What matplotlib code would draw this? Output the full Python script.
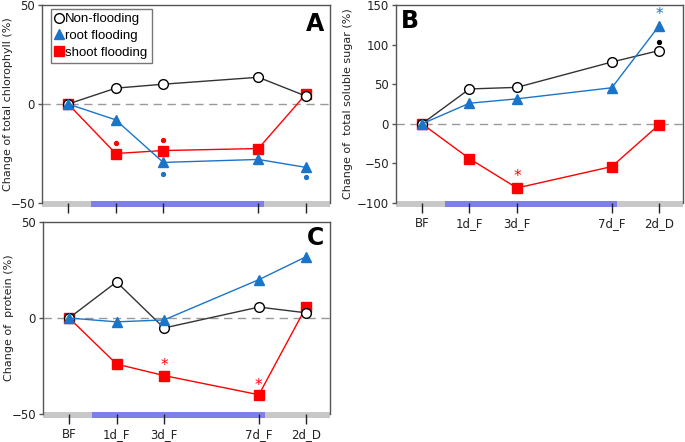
import numpy as np
import matplotlib.pyplot as plt
from matplotlib.lines import Line2D

# x positions of the sampling points (not evenly spaced)
xlabels = ['BF', '1d_F', '3d_F', '7d_F', '2d_D']
xpos = [0, 1, 2, 4, 5]

# panel A: total chlorophyll
chl_non = [0, 8, 10, 13.5, 4]
chl_root = [0, -8, -29.5, -28, -32]
chl_shoot = [0, -25, -23.5, -22.5, 5]

# panel B: total soluble sugar
sug_non = [0, 44, 46, 78, 92.5]
sug_root = [0, 26, 31.5, 45.5, 124]
sug_shoot = [0, -44, -81, -54, -1]

# panel C: protein
pro_non = [0, 18.8, -5.2, 5.7, 2.7]
pro_root = [0, -2, -1, 20, 32]
pro_shoot = [0, -24, -30, -40, 6]

BLUE = '#1a75c9'
RED = '#ff0000'
DARK = '#333333'

# significance marks: (x index, y, kind, colour)
marks_a = [(1, -19.5, 'dot', RED), (2, -18, 'dot', RED),
           (2, -35.5, 'dot', BLUE), (4, -37, 'dot', BLUE)]
marks_b = [(4, 103, 'dot', 'black'), (4, 138, 'star', BLUE),
           (2, -67, 'star', RED)]
marks_c = [(2, -25, 'star', RED), (3, -35, 'star', RED)]

fig = plt.figure(figsize=(6.85, 4.42), dpi=100)
axA = fig.add_axes([0.0613, 0.5407, 0.420, 0.448])
axB = fig.add_axes([0.578, 0.5407, 0.419, 0.448])
axC = fig.add_axes([0.0628, 0.0635, 0.419, 0.434])


def panel(ax, non, root, shoot, ylim, yticks, ylabel, label_x, letter, letter_pos,
          marks, show_xlabels):
    ax.axhline(0, color='#999999', lw=1, ls=(0, (6, 4)), zorder=1)
    ax.plot(xpos, non, color=DARK, lw=1, marker='o', ms=7, mfc='white',
            mec='black', mew=1, zorder=3)
    ax.plot(xpos, root, color=BLUE, lw=1, marker='^', ms=7, mfc=BLUE,
            mec=BLUE, zorder=4)
    ax.plot(xpos, shoot, color=RED, lw=1, marker='s', ms=6.5, mfc=RED,
            mec=RED, zorder=2)
    for i, y, kind, c in marks:
        if kind == 'dot':
            ax.plot(xpos[i], y, 'o', color=c, ms=2.8, zorder=5)
        else:
            ax.text(xpos[i], y, '*', color=c, fontsize=11, ha='center',
                    va='center', zorder=5)
    ax.set_xlim(-0.55, 5.5)
    ax.set_ylim(*ylim)
    ax.set_yticks(yticks)
    ax.set_xticks(xpos)
    if show_xlabels:
        ax.set_xticklabels(xlabels, fontsize=8.5, color='#222222')
    else:
        ax.set_xticklabels([])
    ax.tick_params(axis='x', length=7, width=1, pad=3, color='#222222')
    ax.tick_params(axis='y', length=3, width=1, labelsize=8.5, labelcolor='#222222',
                   color='#555555', pad=2)
    for s in ['top', 'right', 'left']:
        ax.spines[s].set_color('#555555')
        ax.spines[s].set_linewidth(1)
    ax.spines['bottom'].set_visible(False)
    # grey band along the bottom and blue flooding period
    h = ylim[1] - ylim[0]
    lo = ylim[0] - h * 0.02
    hi = ylim[0] + h * 0.008
    ax.axhspan(lo, hi, xmin=0, xmax=1, color='#c8c8c8', clip_on=False,
               zorder=0.5, lw=0)
    x0 = (0.48 + 0.55) / 6.05
    x1 = (4.12 + 0.55) / 6.05
    ax.axhspan(lo, hi, xmin=x0, xmax=x1, color='#7272f0', alpha=0.85,
               clip_on=False, zorder=0.6, lw=0)
    ax.set_ylabel(ylabel, fontsize=8, color='#222222')
    ax.yaxis.set_label_coords(label_x, 0.5)
    ax.text(letter_pos[0], letter_pos[1], letter, transform=ax.transAxes,
            fontsize=17, fontweight='bold', ha='center', va='center')


panel(axA, chl_non, chl_root, chl_shoot, (-50, 50), [-50, 0, 50],
      'Change of total chlorophyll (%)', -0.1, 'A', (0.948, 0.905), marks_a, False)
panel(axB, sug_non, sug_root, sug_shoot, (-100, 150), [-100, -50, 0, 50, 100, 150],
      'Change of  total soluble sugar (%)', -0.148, 'B', (0.05, 0.92), marks_b, True)
panel(axC, pro_non, pro_root, pro_shoot, (-50, 50), [-50, 0, 50],
      'Change of  protein (%)', -0.1, 'C', (0.948, 0.915), marks_c, True)

handles = [
    Line2D([], [], ls='', marker='o', ms=7, mfc='white', mec='black'),
    Line2D([], [], ls='', marker='^', ms=6.5, color=BLUE),
    Line2D([], [], ls='', marker='s', ms=6.5, color=RED),
]
leg = axA.legend(handles, ['Non-flooding', 'root flooding', 'shoot flooding'],
                 loc='upper left', handlelength=0.6, handletextpad=0.15,
                 borderpad=0.3, labelspacing=0.35, fancybox=False,
                 prop={'family': 'Liberation Sans', 'size': 9.5},
                 bbox_to_anchor=(0.033, 0.98), borderaxespad=0)
leg.get_frame().set_edgecolor('#555555')
leg.get_frame().set_linewidth(1)

fig.savefig('out.png', dpi=100)
